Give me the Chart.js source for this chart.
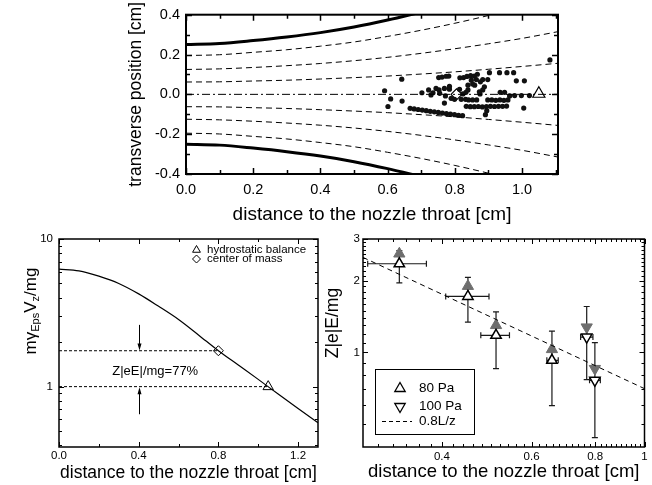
<!DOCTYPE html>
<html>
<head>
<meta charset="utf-8">
<script src="https://cdn.jsdelivr.net/npm/chart.js@4.4.0/dist/chart.umd.min.js"></script>
<style>
  html, body { margin: 0; padding: 0; background: #fff; }
  #wrap { position: relative; width: 652px; height: 485px; overflow: hidden; }
  canvas { position: absolute; }
</style>
</head>
<body>
<div id="wrap">
  <canvas id="topChart" width="652" height="230" style="left:0;top:0"></canvas>
  <canvas id="leftChart" width="330" height="260" style="left:0;top:225px"></canvas>
  <canvas id="rightChart" width="334" height="260" style="left:318px;top:225px"></canvas>
</div>
<script>
// ---- top panel: nozzle wall, streamlines, particle positions ----
const streamX = [0, 0.1, 0.2, 0.3, 0.4, 0.5, 0.6, 0.7, 0.8, 0.9, 1.0, 1.12];
const wallUpper = [0.25, 0.255, 0.27, 0.288, 0.31, 0.338, 0.373, 0.413];
const wallLower = [-0.25, -0.255, -0.27, -0.288, -0.31, -0.338, -0.373, -0.413];
const streamUp1 = [0.195, 0.199, 0.211, 0.224, 0.242, 0.263, 0.291, 0.322, 0.357, 0.396, 0.439];
const streamUp2 = [0.125, 0.128, 0.135, 0.144, 0.155, 0.169, 0.186, 0.206, 0.229, 0.254, 0.281, 0.319];
const streamUp3 = [0.062, 0.063, 0.067, 0.071, 0.077, 0.084, 0.092, 0.102, 0.113, 0.126, 0.140, 0.158];
const streamDn3 = [-0.062, -0.063, -0.067, -0.071, -0.077, -0.084, -0.092, -0.102, -0.113, -0.126, -0.140, -0.158];
const streamDn2 = [-0.125, -0.128, -0.135, -0.144, -0.155, -0.169, -0.186, -0.206, -0.229, -0.254, -0.281, -0.319];
const streamDn1 = [-0.195, -0.199, -0.211, -0.224, -0.242, -0.263, -0.291, -0.322, -0.357, -0.396, -0.439];
const axisLineX = [0, 1.12];
const axisLineY = [0, 0];

const particleX = [
  0.591, 0.609, 0.601, 0.642, 0.643,
  0.667, 0.679, 0.691, 0.703, 0.715, 0.727, 0.739, 0.751, 0.763, 0.775, 0.787, 0.799, 0.811, 0.823,
  0.752, 0.762, 0.774, 0.782,
  0.815, 0.826, 0.836, 0.847, 0.858, 0.867,
  0.839, 0.849, 0.859, 0.864, 0.876, 0.883, 0.888, 0.898, 0.853,
  0.903, 0.933, 0.955, 0.975, 0.983, 1.007, 1.083,
  0.702, 0.722, 0.729, 0.744, 0.735, 0.753, 0.755, 0.769, 0.772, 0.769, 0.784, 0.784, 0.789, 0.799,
  0.814, 0.819, 0.824, 0.832, 0.839, 0.833,
  0.873, 0.883, 0.875, 0.935, 0.948, 0.963, 0.978, 0.998, 1.022,
  0.841, 0.853, 0.865, 0.898, 0.910, 0.922, 0.934, 0.946, 0.958,
  0.834, 0.846, 0.858, 0.870, 0.882, 0.894, 0.906, 0.918, 0.930, 0.942, 0.954,
  0.891, 0.895, 1.005
];
const particleY = [
  0.018, -0.023, -0.061, 0.076, -0.034,
  -0.070, -0.073, -0.076, -0.079, -0.082, -0.085, -0.088, -0.091, -0.094, -0.097, -0.099, -0.102, -0.105, -0.107,
  0.084, 0.087, 0.091, 0.092,
  0.083, 0.084, 0.090, 0.094, 0.092, 0.101,
  0.046, 0.071, 0.046, 0.074, 0.063, 0.074, 0.038, 0.074, 0.052,
  0.109, 0.109, 0.109, 0.109, 0.068, 0.068, 0.173,
  0.008, 0.022, -0.003, 0.030, 0.008, 0.022, 0.005, 0.030, -0.008, -0.044, 0.026, 0.040, -0.020, -0.025,
  0.025, -0.025, 0.002, -0.025, 0.022, 0.010,
  0.013, 0.022, 0.002, 0.010, 0.010, -0.008, -0.006, -0.006, -0.006,
  -0.028, -0.028, -0.028, -0.028, -0.028, -0.030, -0.028, -0.030, -0.028,
  -0.060, -0.062, -0.062, -0.061, -0.063, -0.061, -0.060, -0.061, -0.060, -0.060, -0.059,
  -0.102, -0.082, -0.069
];
const topCenterOfMass = { x: 0.805, y: 0.0 };
const topHydrostatic = { x: 1.05, y: 0.003 };
const topXTicks = [0, 0.2, 0.4, 0.6, 0.8, 1.0];
const topXMinor = [0.1, 0.3, 0.5, 0.7, 0.9, 1.1];
const topYTicks = [-0.4, -0.2, 0, 0.2, 0.4];
const topYMinor = [-0.3, -0.1, 0.1, 0.3];

// ---- bottom left: force ratio along the axis ----
const forceX = [0, 0.1, 0.2, 0.3, 0.4, 0.5, 0.6, 0.7, 0.8, 0.9, 1.0, 1.1, 1.2, 1.3];
const forceRatio = [6.25, 6.08, 5.6, 5.0, 4.25, 3.5, 2.85, 2.24, 1.75, 1.40, 1.12, 0.89, 0.71, 0.57];
const comPoint = { x: 0.8, y: 1.75 };
const hbPoint = { x: 1.05, y: 1.0 };
const leftXTicks = [0, 0.4, 0.8, 1.2];
const leftXMinor = [0.2, 0.6, 1.0];
const leftYTicks = [1, 10];
const leftYMinor = [0.4, 0.5, 0.6, 0.7, 0.8, 0.9, 2, 3, 4, 5, 6, 7, 8, 9];

// ---- bottom right: measured charge ratio ----
const posX80 = [0.330, 0.450, 0.511, 0.658];
const ratio80 = [2.36, 1.72, 1.18, 0.926];
const ratio80Gray = [2.60, 1.90, 1.30, 1.03];
const xLow80 = [0.286, 0.407, 0.477, 0.643];
const xHigh80 = [0.373, 0.495, 0.543, 0.677];
const yLow80 = [1.96, 1.34, 0.854, 0.597];
const yHigh80 = [2.68, 2.07, 1.48, 1.23];
const posX100 = [0.770, 0.799];
const ratio100 = [1.16, 0.763];
const ratio100Gray = [1.277, 0.854];
const xLow100 = [0.749, 0.780];
const xHigh100 = [0.792, 0.819];
const yLow100 = [0.768, 0.438];
const yHigh100 = [1.56, 1.10];
const fitX = [0.28, 1.0];
const fitY = [2.51, 0.704];
const rightXTicks = [0.4, 0.6, 0.8, 1];
const rightXMinor = [0.3, 0.32, 0.34, 0.36, 0.38, 0.42, 0.44, 0.46, 0.48, 0.5, 0.52, 0.54, 0.56, 0.58,
  0.62, 0.64, 0.66, 0.68, 0.7, 0.72, 0.74, 0.76, 0.78, 0.82, 0.84, 0.86, 0.88, 0.9, 0.92, 0.94, 0.96, 0.98];
const rightYTicks = [1, 2, 3];
const rightYMinor = [0.5, 0.6, 0.7, 0.8, 0.9, 1.1, 1.2, 1.3, 1.4, 1.5, 1.6, 1.7, 1.8, 1.9,
  2.1, 2.2, 2.3, 2.4, 2.5, 2.6, 2.7, 2.8, 2.9];

const FONT = "'Liberation Sans', Arial, Helvetica, sans-serif";
Chart.defaults.font.family = FONT;
Chart.defaults.color = '#000';

function pts(xs, ys) {
  return ys.map((y, i) => ({ x: xs[i], y: y }));
}

function curve(xs, ys, width, dash) {
  return {
    data: pts(xs, ys),
    showLine: true,
    borderColor: '#000',
    borderWidth: width,
    borderDash: dash,
    pointRadius: 0,
    cubicInterpolationMode: 'monotone',
    fill: false
  };
}

function setTicks(values) {
  return function(scale) {
    scale.ticks = values.map(v => ({ value: v }));
  };
}

const noGrid = { display: false, drawTicks: false };

// frame around the plot with inward ticks on all four sides
const framePlugin = {
  id: 'frame',
  afterDatasetsDraw(chart, args, o) {
    const { ctx, chartArea: a, scales } = chart;
    const xs = scales.x, ys = scales.y;
    ctx.save();
    ctx.strokeStyle = '#000';
    ctx.lineWidth = o.tickWidth;
    const xMarks = (vals, len) => vals.forEach(v => {
      const p = Math.round(xs.getPixelForValue(v)) + 0.5;
      ctx.beginPath();
      ctx.moveTo(p, a.bottom); ctx.lineTo(p, a.bottom - len);
      ctx.moveTo(p, a.top); ctx.lineTo(p, a.top + len);
      ctx.stroke();
    });
    const yMarks = (vals, len) => vals.forEach(v => {
      const p = Math.round(ys.getPixelForValue(v)) + 0.5;
      ctx.beginPath();
      ctx.moveTo(a.left, p); ctx.lineTo(a.left + len, p);
      ctx.moveTo(a.right, p); ctx.lineTo(a.right - len, p);
      ctx.stroke();
    });
    xMarks(o.xMajor, o.major);
    xMarks(o.xMinor, o.minor);
    yMarks(o.yMajor, o.major);
    yMarks(o.yMinor, o.minor);
    ctx.lineWidth = o.lineWidth;
    ctx.strokeRect(a.left, a.top, a.width, a.height);
    ctx.restore();
  }
};

function axisFont(size) {
  return { family: FONT, size: size };
}

// ================= top chart =================
new Chart(document.getElementById('topChart'), {
  type: 'scatter',
  data: {
    datasets: [
      curve(streamX, wallUpper, 3, []),
      curve(streamX, wallLower, 3, []),
      curve(streamX, streamUp1, 1, [6, 4]),
      curve(streamX, streamUp2, 1, [6, 4]),
      curve(streamX, streamUp3, 1, [6, 4]),
      curve(streamX, streamDn3, 1, [6, 4]),
      curve(streamX, streamDn2, 1, [6, 4]),
      curve(streamX, streamDn1, 1, [6, 4]),
      curve(axisLineX, axisLineY, 1, [8, 3, 2, 3]),
      {
        data: pts(particleX, particleY),
        pointRadius: 2.6,
        backgroundColor: '#111',
        borderWidth: 0
      },
      {
        data: [topCenterOfMass],
        pointStyle: 'rectRot',
        pointRadius: 5.5,
        backgroundColor: '#fff',
        borderColor: '#000',
        borderWidth: 1.2
      },
      {
        data: [topHydrostatic],
        pointStyle: 'triangle',
        pointRadius: 7,
        backgroundColor: '#fff',
        borderColor: '#000',
        borderWidth: 1.2
      }
    ]
  },
  options: {
    responsive: false,
    animation: false,
    layout: { padding: { left: 0, right: 94, top: 12, bottom: 0 } },
    plugins: {
      legend: { display: false },
      tooltip: { enabled: false },
      frame: { xMajor: topXTicks, xMinor: topXMinor, yMajor: topYTicks, yMinor: topYMinor,
               major: 6, minor: 4, tickWidth: 1.5, lineWidth: 2 }
    },
    scales: {
      x: {
        type: 'linear', min: 0, max: 1.107,
        afterBuildTicks: setTicks(topXTicks),
        afterFit: s => { s.height = 56; },
        grid: noGrid, border: { display: false },
        ticks: { callback: v => v.toFixed(1), font: axisFont(14.5), padding: 7, autoSkip: false, maxRotation: 0 },
        title: { display: true, text: 'distance to the nozzle throat [cm]', font: axisFont(19), padding: { top: 0, bottom: 4 } }
      },
      y: {
        type: 'linear', min: -0.4, max: 0.4,
        afterBuildTicks: setTicks(topYTicks),
        afterFit: s => { s.width = 186; },
        grid: noGrid, border: { display: false },
        ticks: { callback: v => v.toFixed(1), font: axisFont(14.5), padding: 6, autoSkip: false },
        title: { display: true, text: 'transverse position [cm]', font: axisFont(17.5), padding: { top: 126, bottom: 0 } }
      }
    }
  },
  plugins: [framePlugin]
});

// ================= bottom left chart =================
const leftExtras = {
  id: 'leftExtras',
  afterDatasetsDraw(chart) {
    const { ctx, scales: { x, y } } = chart;
    ctx.save();
    ctx.strokeStyle = '#000';
    ctx.fillStyle = '#000';
    ctx.lineWidth = 1;
    // arrows marking the 77 % gap
    const ax = Math.round(x.getPixelForValue(0.4)) + 0.5;
    const arrow = (fromV, toV) => {
      const p0 = y.getPixelForValue(fromV), p1 = y.getPixelForValue(toV);
      const dir = p1 > p0 ? 1 : -1;
      ctx.beginPath(); ctx.moveTo(ax, p0); ctx.lineTo(ax, p1 - dir * 6); ctx.stroke();
      ctx.beginPath(); ctx.moveTo(ax, p1); ctx.lineTo(ax - 2, p1 - dir * 7); ctx.lineTo(ax + 2, p1 - dir * 7); ctx.closePath(); ctx.fill();
    };
    arrow(2.62, 1.76);
    arrow(0.65, 0.99);
    ctx.font = '13px ' + FONT;
    ctx.textAlign = 'center';
    ctx.textBaseline = 'middle';
    ctx.fillText('Z|eE|/mg=77%', x.getPixelForValue(0.483), y.getPixelForValue(1.27));

    // legend
    const lx = 196.5, ly1 = 25, ly2 = 34;
    ctx.fillStyle = '#fff';
    ctx.lineWidth = 1;
    Chart.helpers.drawPoint(ctx, { pointStyle: 'triangle', radius: 4.5, borderWidth: 1 }, lx, ly1);
    Chart.helpers.drawPoint(ctx, { pointStyle: 'rectRot', radius: 4, borderWidth: 1 }, lx, ly2);
    ctx.fillStyle = '#000';
    ctx.font = '11.5px ' + FONT;
    ctx.textAlign = 'left';
    ctx.fillText('hydrostatic balance', 207, ly1);
    ctx.fillText('center of mass', 207, ly2);

    // y axis title with subscripts
    const parts = [['m\u03b3', 17, 0], ['Eps', 11, 4], ['V', 17, 0], ['z', 11, 4], ['/mg', 17, 0]];
    let total = 0;
    parts.forEach(p => { ctx.font = p[1] + 'px ' + FONT; total += ctx.measureText(p[0]).width; });
    ctx.translate(31.7, 86);
    ctx.rotate(-Math.PI / 2);
    let cx = -total / 2;
    parts.forEach(p => {
      ctx.font = p[1] + 'px ' + FONT;
      ctx.fillText(p[0], cx, p[2]);
      cx += ctx.measureText(p[0]).width;
    });
    ctx.restore();
  }
};

new Chart(document.getElementById('leftChart'), {
  type: 'scatter',
  data: {
    datasets: [
      curve([0, comPoint.x], [comPoint.y, comPoint.y], 1, [3, 2]),
      curve([0, hbPoint.x], [hbPoint.y, hbPoint.y], 1, [3, 2]),
      curve(forceX, forceRatio, 1.2, []),
      {
        data: [comPoint],
        pointStyle: 'rectRot', pointRadius: 5,
        backgroundColor: '#fff', borderColor: '#000', borderWidth: 1
      },
      {
        data: [hbPoint],
        pointStyle: 'triangle', pointRadius: 6,
        backgroundColor: '#fff', borderColor: '#000', borderWidth: 1
      }
    ]
  },
  options: {
    responsive: false,
    animation: false,
    layout: { padding: { left: 0, right: 12, top: 14, bottom: 0 } },
    plugins: {
      legend: { display: false },
      tooltip: { enabled: false },
      frame: { xMajor: leftXTicks, xMinor: leftXMinor, yMajor: leftYTicks, yMinor: leftYMinor,
               major: 5, minor: 3, tickWidth: 1, lineWidth: 1.5 }
    },
    scales: {
      x: {
        type: 'linear', min: 0, max: 1.3,
        afterBuildTicks: setTicks(leftXTicks),
        afterFit: s => { s.height = 38; },
        grid: noGrid, border: { display: false },
        ticks: { callback: v => v.toFixed(1), font: axisFont(11.5), padding: 2, autoSkip: false, maxRotation: 0 },
        title: { display: true, text: 'distance to the nozzle throat [cm]', font: axisFont(17.5), padding: { top: 0, bottom: 1.5 } }
      },
      y: {
        type: 'logarithmic', min: 0.39, max: 10,
        afterBuildTicks: setTicks(leftYTicks),
        afterFit: s => { s.width = 59; },
        grid: noGrid, border: { display: false },
        ticks: { callback: v => String(v), font: axisFont(11.5), padding: 6, autoSkip: false }
      }
    }
  },
  plugins: [framePlugin, leftExtras]
});

// ================= bottom right chart =================
const rightExtras = {
  id: 'rightExtras',
  beforeDatasetsDraw(chart) {
    const { ctx, scales: { x, y } } = chart;
    ctx.save();
    ctx.strokeStyle = '#1a1a1a';
    ctx.lineWidth = 1.2;
    const bars = (xs, ys, xl, xh, yl, yh) => xs.forEach((xv, i) => {
      const px = x.getPixelForValue(xv), py = y.getPixelForValue(ys[i]);
      const x0 = x.getPixelForValue(xl[i]), x1 = x.getPixelForValue(xh[i]);
      const y0 = y.getPixelForValue(yl[i]), y1 = y.getPixelForValue(yh[i]);
      ctx.beginPath();
      ctx.moveTo(x0, py); ctx.lineTo(x1, py);
      ctx.moveTo(x0, py - 3); ctx.lineTo(x0, py + 3);
      ctx.moveTo(x1, py - 3); ctx.lineTo(x1, py + 3);
      ctx.moveTo(px, y0); ctx.lineTo(px, y1);
      ctx.moveTo(px - 3, y0); ctx.lineTo(px + 3, y0);
      ctx.moveTo(px - 3, y1); ctx.lineTo(px + 3, y1);
      ctx.stroke();
    });
    bars(posX80, ratio80, xLow80, xHigh80, yLow80, yHigh80);
    bars(posX100, ratio100, xLow100, xHigh100, yLow100, yHigh100);
    ctx.restore();
  },
  afterDatasetsDraw(chart) {
    const { ctx } = chart;
    ctx.save();
    // legend box
    ctx.strokeStyle = '#000';
    ctx.lineWidth = 1;
    ctx.strokeRect(57.5, 144.5, 99, 65);
    ctx.fillStyle = '#fff';
    ctx.lineWidth = 1.3;
    Chart.helpers.drawPoint(ctx, { pointStyle: 'triangle', radius: 6, borderWidth: 1.3 }, 82, 163.5);
    Chart.helpers.drawPoint(ctx, { pointStyle: 'triangle', radius: 6, borderWidth: 1.3, rotation: 180 }, 82, 181.5);
    ctx.lineWidth = 1;
    ctx.setLineDash([4, 3]);
    ctx.beginPath(); ctx.moveTo(64, 196.5); ctx.lineTo(94, 196.5); ctx.stroke();
    ctx.setLineDash([]);
    ctx.fillStyle = '#000';
    ctx.font = '13.5px ' + FONT;
    ctx.textAlign = 'left';
    ctx.textBaseline = 'middle';
    ctx.fillText('80 Pa', 101, 163.5);
    ctx.fillText('100 Pa', 101, 181.5);
    ctx.fillText('0.8L/z', 101, 196.5);
    // y axis title
    ctx.font = '17.5px ' + FONT;
    ctx.textAlign = 'center';
    ctx.translate(15.5, 98);
    ctx.rotate(-Math.PI / 2);
    ctx.fillText('Z|e|E/mg', 0, 0);
    ctx.restore();
  }
};

const GRAY = '#6e6e6e';
new Chart(document.getElementById('rightChart'), {
  type: 'scatter',
  data: {
    datasets: [
      curve(fitX, fitY, 1, [5, 4]),
      {
        data: pts(posX80, ratio80),
        pointStyle: 'triangle', pointRadius: 6,
        backgroundColor: '#fff', borderColor: '#000', borderWidth: 1.5
      },
      {
        data: pts(posX100, ratio100),
        pointStyle: 'triangle', rotation: 180, pointRadius: 6,
        backgroundColor: '#fff', borderColor: '#000', borderWidth: 1.5
      },
      {
        data: pts(posX80, ratio80Gray),
        pointStyle: 'triangle', pointRadius: 6.5,
        backgroundColor: GRAY, borderColor: GRAY, borderWidth: 1
      },
      {
        data: pts(posX100, ratio100Gray),
        pointStyle: 'triangle', rotation: 180, pointRadius: 6.5,
        backgroundColor: GRAY, borderColor: GRAY, borderWidth: 1
      }
    ]
  },
  options: {
    responsive: false,
    animation: false,
    layout: { padding: { left: 0, right: 6, top: 14, bottom: 0 } },
    plugins: {
      legend: { display: false },
      tooltip: { enabled: false },
      frame: { xMajor: rightXTicks, xMinor: rightXMinor, yMajor: rightYTicks, yMinor: rightYMinor,
               major: 5, minor: 3, tickWidth: 1, lineWidth: 1.5 }
    },
    scales: {
      x: {
        type: 'logarithmic', min: 0.28, max: 1,
        afterBuildTicks: setTicks(rightXTicks),
        afterFit: s => { s.height = 38; },
        grid: noGrid, border: { display: false },
        ticks: { callback: v => String(v), font: axisFont(11.5), padding: 3, autoSkip: false, maxRotation: 0 },
        title: { display: true, text: 'distance to the nozzle throat [cm]', font: axisFont(18.5), padding: { top: 0, bottom: 1.5 } }
      },
      y: {
        type: 'logarithmic', min: 0.4, max: 3,
        afterBuildTicks: setTicks(rightYTicks),
        afterFit: s => { s.width = 45; },
        grid: noGrid, border: { display: false },
        ticks: { callback: v => String(v), font: axisFont(11.5), padding: 3, autoSkip: false }
      }
    }
  },
  plugins: [framePlugin, rightExtras]
});
</script>
</body>
</html>
